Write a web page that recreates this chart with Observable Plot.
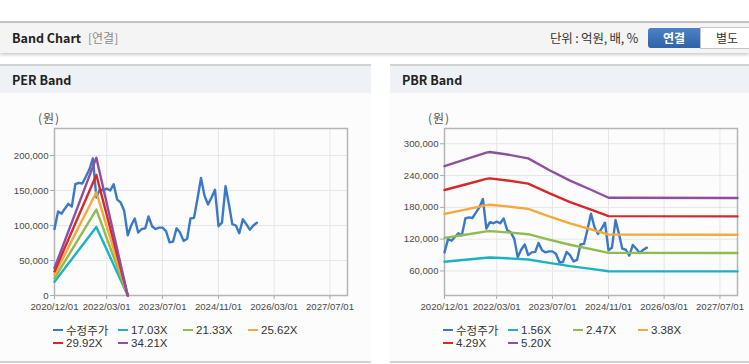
<!DOCTYPE html>
<html><head><meta charset="utf-8">
<script src="https://cdn.jsdelivr.net/npm/d3@7"></script>
<script src="https://cdn.jsdelivr.net/npm/@observablehq/plot@0.6"></script>
<style>
body{margin:0;width:749px;height:364px;overflow:hidden;background:#fff;font-family:"Liberation Sans","Noto Sans CJK KR",sans-serif;position:relative}
.abs{position:absolute}
.topbar{left:0;top:21px;width:749px;height:30px;background:#f4f4f4;border-top:2px solid #c2c2c2;box-shadow:0 2px 3px rgba(0,0,0,.2)}
.title{left:12px;top:29px;font:bold 12.5px "Noto Sans CJK KR",sans-serif;color:#222;line-height:18px}
.sub{left:88px;top:29px;font:12px "Noto Sans CJK KR",sans-serif;color:#8a8a8a;line-height:18px}
.unit{left:550px;top:29px;font:12.5px "Noto Sans CJK KR",sans-serif;color:#333;line-height:18px;letter-spacing:-0.2px}
.btn1{left:648px;top:28px;width:52px;height:20px;background:linear-gradient(#4c82c6,#2f62a6);color:#fff;font:bold 12px "Noto Sans CJK KR",sans-serif;line-height:20px;text-align:center;border-radius:3px 0 0 3px}
.btn2{left:700px;top:27px;width:52px;height:20px;background:#fff;border:1px solid #c4c4c4;color:#333;font:12px "Noto Sans CJK KR",sans-serif;line-height:20px;text-align:center}
.panel{top:64px;height:295px;background:#fcfcfc;border-top:2px solid #d2d2d2;border-bottom:2px solid #d2d2d2}
.phead{top:66px;height:27px;background:#eef1f6}
.ptitle{top:71px;font:bold 12.5px "Noto Sans CJK KR",sans-serif;color:#222;line-height:18px}
.unitlab{top:110px;font:12px "Noto Sans CJK KR",sans-serif;color:#555;letter-spacing:1px;line-height:16px}
.legend{display:grid;grid-template-columns:65px 65px 65px 65px;grid-auto-rows:13px;font-size:11.5px;color:#333}
.item{display:flex;align-items:center;white-space:nowrap}
.sw{display:inline-block;width:10px;height:2.5px;margin-right:3.5px}
</style></head>
<body>
<div class="abs topbar"></div>
<div class="abs title">Band Chart</div>
<div class="abs sub">[연결]</div>
<div class="abs unit">단위 : 억원, 배, %</div>
<div class="abs btn1">연결</div>
<div class="abs btn2">별도</div>

<div class="abs panel" style="left:0;width:371px"></div>
<div class="abs phead" style="left:0;width:371px"></div>
<div class="abs ptitle" style="left:12px">PER Band</div>
<div class="abs panel" style="left:390px;width:359px"></div>
<div class="abs phead" style="left:390px;width:359px"></div>
<div class="abs ptitle" style="left:402px">PBR Band</div>

<div class="abs unitlab" style="left:38px">(원)</div>
<div class="abs unitlab" style="left:428px">(원)</div>

<div id="per" class="abs" style="left:0;top:100px"></div>
<div id="pbr" class="abs" style="left:390px;top:100px"></div>
<div id="perLeg" class="abs legend" style="left:52.5px;top:323.5px"></div>
<div id="pbrLeg" class="abs legend" style="left:442.5px;top:323.5px"></div>

<script>
// ---- data ----
const xTickLabels = ["2020-12-01","2022-03-01","2023-07-01","2024-11-01","2026-03-01","2027-07-01"];
const xDomainLabels = ["2020-12-01","2027-12-01"];
const priceStart = "2020-12-01";
const priceEnd = "2025-11-01";
const price = [95000,120000,117000,124000,131000,127000,159000,161000,160000,170000,
  180000,196000,140000,152000,150000,153000,150000,159000,137000,133000,
  121000,86000,100000,110000,90000,95000,96000,113000,99000,95000,
  97000,97000,92000,76000,77000,96000,90000,78000,81000,110000,
  111000,138000,168000,143000,130000,140000,151000,99000,104000,156000,
  129000,102000,100000,89000,109000,102000,94000,100000,104000];

const perNames = ["17.03X","21.33X","25.62X","29.92X","34.21X"];
const perDates = ["2020-12-01","2021-12-01","2022-09-01"];
const per1703 = [19600, 98000, 0];
const per2133 = [24500, 122800, 0];
const per2562 = [29500, 147500, 0];
const per2992 = [34400, 172200, 0];
const per3421 = [39300, 196900, 0];
const perYTicks = [0, 50000, 100000, 150000, 200000];

const pbrNames = ["1.56X","2.47X","3.38X","4.29X","5.20X"];
const pbrDates = ["2020-12-01","2021-06-01","2021-12-01","2022-01-01","2022-06-01","2022-12-01","2023-06-01","2023-12-01","2024-06-01","2024-11-01","2027-12-01"];
const pbr156 = [77400, 81100, 85000, 85300, 83900, 81700, 75200, 69100, 64000, 59400, 59300];
const pbr247 = [122500,128400,134600,135100,132900,129400,119100,109400,101300,94100,93900];
const pbr338 = [167600,175800,184200,184900,181800,177100,162900,149700,138600,128800,128400];
const pbr429 = [212800,223100,233800,234700,230800,224800,206800,190000,175900,163400,163000];
const pbr520 = [257900,270400,283400,284400,279800,272500,250600,230400,213200,198100,197600];
const pbrYTicks = [60000, 120000, 180000, 240000, 300000];

const priceName = "수정주가";
const colors = ["#3a78c8","#1db1c4","#8fbb4f","#f5a93a","#d6292c","#8f4f9f"];

// ---- chart ----
const toDate = s => new Date(s);
const xTicks = xTickLabels.map(toDate);
const xDomain = xDomainLabels.map(toDate);
const priceMonths = d3.utcMonth.range(toDate(priceStart), toDate(priceEnd));

function band({bands, dates, yDomain, yTicks, width, marginRight}) {
  const bd = dates.map(toDate);
  return Plot.plot({
    width, height: 220,
    marginLeft: 54, marginRight, marginTop: 28, marginBottom: 25,
    style: {background: "transparent", fontFamily: "Liberation Sans, Arial, sans-serif", fontSize: "9.6px", color: "#4a4a4a", overflow: "visible"},
    x: {type: "utc", domain: xDomain},
    y: {domain: yDomain},
    marks: [
      Plot.gridX({ticks: xTicks, stroke: "#e6e6e6", strokeOpacity: 1}),
      Plot.gridY({ticks: yTicks, stroke: "#e6e6e6", strokeOpacity: 1}),
      Plot.axisX({ticks: xTicks, tickFormat: d3.utcFormat("%Y/%m/%d"), tickSize: 4, tickPadding: 4, stroke: "#aaa", fill: "#4a4a4a", label: null}),
      Plot.axisY({ticks: yTicks, tickFormat: d3.format(","), tickSize: 4, tickPadding: 2, stroke: "#aaa", fill: "#4a4a4a", label: null}),
      Plot.frame({stroke: "#b5b5b5", strokeWidth: 1.5}),
      Plot.lineY(price, {x: priceMonths, stroke: colors[0], strokeWidth: 2.4}),
      ...bands.map((b, i) => Plot.lineY(b, {x: bd, stroke: colors[i + 1], strokeWidth: 2.4}))
    ]
  });
}

document.getElementById("per").append(band({
  bands: [per1703, per2133, per2562, per2992, per3421], dates: perDates,
  yDomain: [0, 238600], yTicks: perYTicks, width: 372, marginRight: 25
}));
document.getElementById("pbr").append(band({
  bands: [pbr156, pbr247, pbr338, pbr429, pbr520], dates: pbrDates,
  yDomain: [13700, 328800], yTicks: pbrYTicks, width: 359, marginRight: 12
}));

function legend(id, names) {
  const el = document.getElementById(id);
  [priceName, ...names].forEach((n, i) => {
    const it = document.createElement("div");
    it.className = "item";
    it.innerHTML = `<span class="sw" style="background:${colors[i]}"></span><span>${n}</span>`;
    el.append(it);
  });
}
legend("perLeg", perNames);
legend("pbrLeg", pbrNames);
</script>
</body></html>
